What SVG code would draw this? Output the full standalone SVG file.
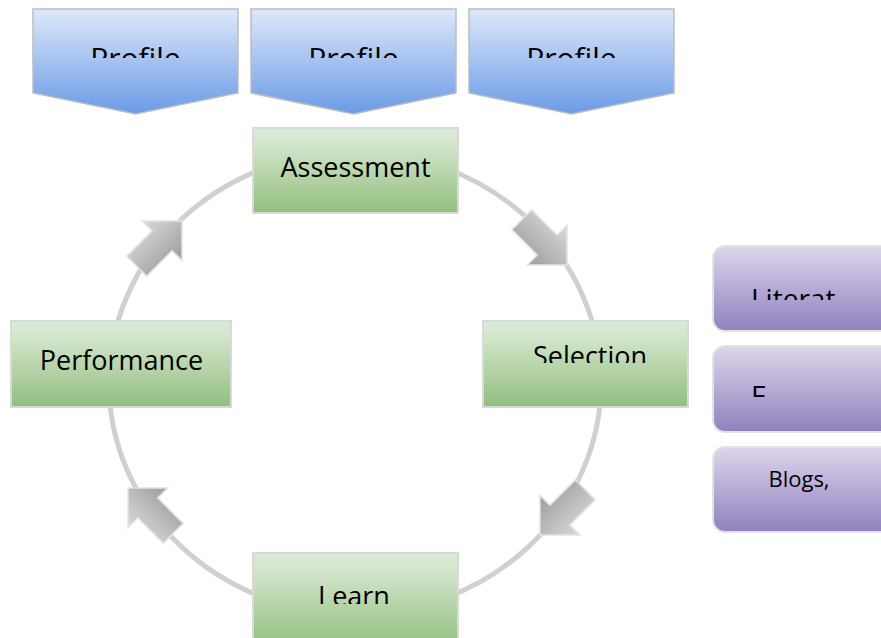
<svg xmlns="http://www.w3.org/2000/svg" width="881" height="638" viewBox="0 0 881 638">
<defs>
<linearGradient id="gBlue" x1="0" y1="0" x2="0" y2="1"><stop offset="0" stop-color="#dee8f9"/><stop offset="1" stop-color="#6b9be6"/></linearGradient>
<linearGradient id="gGreen" x1="0" y1="0" x2="0" y2="1"><stop offset="0" stop-color="#dceadb"/><stop offset="0.15" stop-color="#d6e7cf"/><stop offset="1" stop-color="#92be7e"/></linearGradient>
<linearGradient id="gPurple" x1="0" y1="0" x2="0" y2="1"><stop offset="0" stop-color="#ddd6eb"/><stop offset="1" stop-color="#9180be"/></linearGradient>
<linearGradient id="gGray" x1="0" y1="0" x2="0" y2="1"><stop offset="0" stop-color="#dadada"/><stop offset="1" stop-color="#9c9c9c"/></linearGradient>
<clipPath id="cProfile"><rect x="0" y="0" width="881" height="58"/></clipPath>
<clipPath id="cSel"><rect x="0" y="0" width="881" height="363"/></clipPath>
<clipPath id="cLearn"><rect x="0" y="0" width="881" height="604"/></clipPath>
<clipPath id="cLit"><rect x="0" y="0" width="881" height="300"/></clipPath>
<clipPath id="cE"><rect x="0" y="0" width="881" height="397"/></clipPath>
<path id="arr" d="M0,0 L-28,-28 L-28,-14 L-64,-14 L-64,14 L-28,14 L-28,28 Z"/>
</defs>
<style>
.chev{fill:url(#gBlue);stroke:#bdbdbd;stroke-width:1.5}
.gbox{fill:url(#gGreen);stroke:#d9d9d9;stroke-width:2}
.pbox{fill:url(#gPurple);stroke:#e2e2e2;stroke-width:2}
.arrow{fill:url(#gGray);stroke:#e3e3e3;stroke-width:1.5}
text{font-family:"Open Sans","Noto Sans","DejaVu Sans",sans-serif;fill:#000}
.t27{font-size:27px;text-anchor:middle}
.t30{font-size:30px;text-anchor:middle}
</style>
<rect width="881" height="638" fill="#fff"/>
<g id="connectors">
<ellipse cx="355" cy="383" rx="246" ry="231" fill="none" stroke="#d0d0d0" stroke-width="5"/>
<use href="#arr" class="arrow" transform="translate(182,221) rotate(-45)"/>
<use href="#arr" class="arrow" transform="translate(567,265) rotate(45)"/>
<use href="#arr" class="arrow" transform="translate(540,535) rotate(135)"/>
<use href="#arr" class="arrow" transform="translate(128,488) rotate(225)"/>
</g>
<g id="profile1"><polygon class="chev" points="33,9 238,9 238,93 135.5,114 33,93"/><text class="t30" x="135.5" y="69" clip-path="url(#cProfile)">Profile</text></g>
<g id="profile2"><polygon class="chev" points="251,9 456,9 456,93 353.5,114 251,93"/><text class="t30" x="353.5" y="69" clip-path="url(#cProfile)">Profile</text></g>
<g id="profile3"><polygon class="chev" points="469,9 674,9 674,93 571.5,114 469,93"/><text class="t30" x="571.5" y="69" clip-path="url(#cProfile)">Profile</text></g>
<g id="assessment"><rect class="gbox" x="253" y="128" width="205" height="85"/><text class="t27" x="355.5" y="177">Assessment</text></g>
<g id="selection"><rect class="gbox" x="483" y="321" width="205" height="86"/><text class="t27" x="590" y="366" clip-path="url(#cSel)">Selection</text></g>
<g id="learn"><rect class="gbox" x="253" y="553" width="205" height="95"/><text class="t27" x="354" y="606" clip-path="url(#cLearn)">Learn</text></g>
<g id="performance"><rect class="gbox" x="11" y="321" width="220" height="86"/><text class="t27" x="121.5" y="370">Performance</text></g>
<g id="literature"><rect class="pbox" x="713" y="246" width="190" height="85" rx="12"/><text x="751" y="309" font-size="28" clip-path="url(#cLit)">Literat</text></g>
<g id="e-box"><rect class="pbox" x="713" y="346" width="190" height="86" rx="12"/><text x="751" y="406" font-size="28" clip-path="url(#cE)">E</text></g>
<g id="blogs"><rect class="pbox" x="713" y="447" width="190" height="85" rx="12"/><text x="799" y="487" font-size="22" text-anchor="middle">Blogs,</text></g>
</svg>
